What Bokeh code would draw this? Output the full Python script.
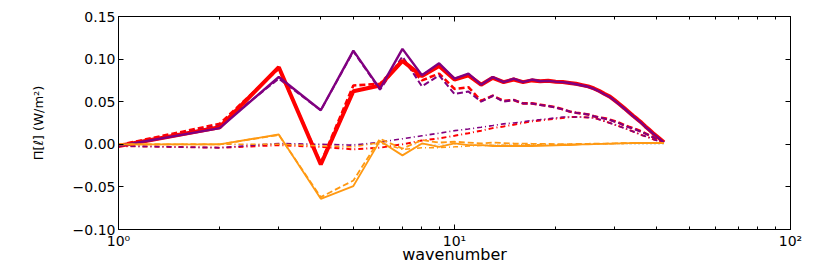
from bokeh.plotting import figure
from bokeh.models import LogAxis, LinearAxis, FixedTicker, CustomJSTickFormatter
from bokeh.embed import file_html
from bokeh.resources import INLINE

k = list(range(1, 43))

red_solid = [-0.002, 0.020, 0.0905, -0.0237, 0.0623, 0.069, 0.098, 0.080, 0.092, 0.076,
             0.081, 0.070, 0.078, 0.073, 0.076, 0.073, 0.075, 0.074, 0.0745, 0.0735,
             0.073, 0.072, 0.071, 0.0695, 0.068, 0.0655, 0.0625, 0.059, 0.056, 0.0515,
             0.047, 0.0425, 0.038, 0.0335, 0.0295, 0.0255, 0.021, 0.017, 0.013, 0.0095, 0.006, 0.0025]
purple_solid = [-0.002, 0.019, 0.079, 0.040, 0.110, 0.065, 0.112, 0.081, 0.095, 0.077,
                0.083, 0.070, 0.079, 0.073, 0.077, 0.073, 0.076, 0.074, 0.0745, 0.0735,
                0.073, 0.072, 0.0705, 0.069, 0.0675, 0.065, 0.062, 0.0585, 0.0555, 0.051,
                0.0465, 0.042, 0.0375, 0.033, 0.029, 0.025, 0.0205, 0.0165, 0.0125, 0.009, 0.0055, 0.002]
red_dashed = [-0.001, 0.024, 0.089, -0.022, 0.069, 0.071, 0.099, 0.075, 0.083, 0.065,
              0.067, 0.051, 0.057, 0.051, 0.052, 0.048, 0.048, 0.0465, 0.045, 0.0435,
              0.041, 0.0385, 0.037, 0.036, 0.035, 0.033, 0.0315, 0.0305, 0.029, 0.027,
              0.025, 0.0225, 0.0205, 0.019, 0.017, 0.015, 0.0128, 0.0105, 0.0085, 0.0065, 0.0045, 0.0025]
purple_dashed = [-0.002, 0.022, 0.077, 0.040, 0.109, 0.064, 0.103, 0.068, 0.081, 0.059,
                 0.062, 0.050, 0.057, 0.050, 0.052, 0.048, 0.048, 0.046, 0.045, 0.043,
                 0.041, 0.0385, 0.037, 0.036, 0.035, 0.033, 0.0315, 0.030, 0.0285, 0.0265,
                 0.0245, 0.022, 0.020, 0.0185, 0.0165, 0.0145, 0.0125, 0.0103, 0.0083, 0.0063, 0.0043, 0.0025]
red_dashdot = [-0.002, -0.004, -0.001, -0.003, -0.006, -0.004, 0.0, 0.0045, 0.007, 0.010,
               0.013, 0.016, 0.019, 0.021, 0.023, 0.025, 0.027, 0.028, 0.029, 0.030,
               0.031, 0.032, 0.032, 0.032, 0.0315, 0.031, 0.029, 0.027, 0.025, 0.023,
               0.021, 0.019, 0.017, 0.015, 0.013, 0.011, 0.0095, 0.0078, 0.006, 0.0045, 0.003, 0.002]
purple_dashdot = [-0.002, -0.004, 0.001, 0.0, -0.001, 0.0025, 0.0065, 0.010, 0.013, 0.016,
                  0.018, 0.020, 0.022, 0.024, 0.025, 0.0265, 0.028, 0.029, 0.030, 0.031,
                  0.032, 0.032, 0.032, 0.032, 0.0315, 0.031, 0.029, 0.027, 0.025, 0.023,
                  0.021, 0.019, 0.017, 0.015, 0.013, 0.011, 0.0095, 0.0078, 0.006, 0.0045, 0.003, 0.002]
orange_solid = [0.0, 0.0, 0.0115, -0.064, -0.049, 0.004, -0.013, 0.001, -0.003, 0.001,
                -0.001, -0.001, -0.002, -0.002, -0.002, -0.002, -0.002, -0.0018, -0.0015, -0.0012,
                -0.001, -0.0008, -0.0005, -0.0002, 0.0, 0.0002, 0.0004, 0.0006, 0.0008, 0.001,
                0.0012, 0.0013, 0.0014, 0.0015, 0.0015, 0.0015, 0.0015, 0.0015, 0.0015, 0.0015, 0.0015, 0.0015]
orange_dashed = [0.0, 0.0, 0.011, -0.062, -0.0425, 0.0065, -0.005, 0.005, 0.002, 0.003,
                 0.002, 0.001, 0.002, 0.0015, 0.001, 0.0008, 0.0006, 0.0005, 0.0004, 0.0003,
                 0.0003, 0.0003, 0.0004, 0.0005, 0.0006, 0.0007, 0.0008, 0.0009, 0.001, 0.0011,
                 0.0012, 0.0013, 0.0013, 0.0014, 0.0014, 0.0015, 0.0015, 0.0015, 0.0015, 0.0015, 0.0015, 0.0015]
orange_dashdot = [0.0, 0.0, 0.0, -0.002, -0.003, 0.002, -0.006, -0.004, -0.004, -0.003,
                  -0.002, -0.0015, -0.001, -0.001, -0.0008, -0.0006, -0.0005, -0.0004, -0.0003, -0.0002,
                  -0.0001, 0.0, 0.0001, 0.0002, 0.0003, 0.0004, 0.0005, 0.0006, 0.0007, 0.0008,
                  0.0009, 0.001, 0.001, 0.0011, 0.0011, 0.0012, 0.0012, 0.0013, 0.0013, 0.0014, 0.0014, 0.0015]

y_ticks = [-0.10, -0.05, 0.0, 0.05, 0.10, 0.15]
x_major = [1, 10, 100]
x_minor = [2, 3, 4, 5, 6, 7, 8, 9, 20, 30, 40, 50, 60, 70, 80, 90]
x_tick_labels = {1: "10⁰", 10: "10¹", 100: "10²"}

RED = "#ff0000"
PURPLE = "#800080"
ORANGE = "#ff9912"
FONT = "DejaVu Sans"

p = figure(x_axis_type="log", x_range=(1, 100), y_range=(-0.10, 0.15),
           frame_width=672, frame_height=213,
           min_border_left=118, min_border_right=20, min_border_top=16, min_border_bottom=30,
           output_backend="svg", toolbar_location=None)
p.grid.visible = False
p.outline_line_color = "black"
p.outline_line_width = 1
p.background_fill_color = "white"
p.border_fill_color = "white"

xt = FixedTicker(ticks=x_major, minor_ticks=x_minor)
yt = FixedTicker(ticks=y_ticks)
xfmt = CustomJSTickFormatter(args=dict(m={str(a): b for a, b in x_tick_labels.items()}),
                             code="return m[String(tick)] || '';")
yfmt = CustomJSTickFormatter(code="return tick.toFixed(2).replace('-', '\u2212');")
empty = CustomJSTickFormatter(code="return '';")

def style(ax, show):
    ax.axis_line_color = "black"
    ax.major_tick_in = 5
    ax.major_tick_out = 0
    ax.minor_tick_in = 3
    ax.minor_tick_out = 0
    ax.major_tick_line_color = "black"
    ax.minor_tick_line_color = "black"
    ax.major_label_text_font = FONT
    ax.major_label_text_font_size = "14px"
    ax.major_label_text_color = "black"
    ax.major_label_standoff = 3
    if not show:
        ax.major_label_text_font_size = "0px"
        ax.major_label_standoff = 0

xa = p.xaxis[0]
xa.ticker = xt
xa.formatter = xfmt
style(xa, True)
xa.axis_label = "wavenumber"
xa.axis_label_text_font = FONT
xa.axis_label_text_font_size = "16px"
xa.axis_label_text_font_style = "normal"
xa.axis_label_text_color = "black"
xa.axis_label_standoff = -7

ya = p.yaxis[0]
ya.ticker = yt
ya.formatter = yfmt
style(ya, True)
ya.minor_tick_line_color = None
ya.axis_label = "Π[ℓ] (W/m²)"
ya.axis_label_text_font = FONT
ya.axis_label_text_font_size = "13px"
ya.axis_label_text_font_style = "normal"
ya.axis_label_text_color = "black"
ya.axis_label_standoff = 24

top = LogAxis(ticker=FixedTicker(ticks=x_major, minor_ticks=x_minor), formatter=empty)
style(top, False)
p.add_layout(top, "above")
right = LinearAxis(ticker=FixedTicker(ticks=y_ticks), formatter=empty)
style(right, False)
right.minor_tick_line_color = None
p.add_layout(right, "right")

p.segment(x0=k[0], x1=k[-1], y0=0, y1=0, line_color="black", line_width=0.6, line_dash="1 3", line_alpha=0.5)

DD = "5 3 1 3"
DA = "6 3"
p.line(k, red_dashdot, line_color=RED, line_width=2, line_dash=DD)
p.line(k, purple_dashdot, line_color=PURPLE, line_width=1.6, line_dash=DD)
p.line(k, red_dashed, line_color=RED, line_width=2.6, line_dash=DA)
p.line(k, purple_dashed, line_color=PURPLE, line_width=2, line_dash=DA)
p.line(k, red_solid, line_color=RED, line_width=4)
p.line(k, purple_solid, line_color=PURPLE, line_width=2.4)
p.line(k, orange_dashdot, line_color=ORANGE, line_width=1.5, line_dash=DD)
p.line(k, orange_dashed, line_color=ORANGE, line_width=1.8, line_dash=DA)
p.line(k, orange_solid, line_color=ORANGE, line_width=1.8)

open("out.html", "w").write(file_html(p, INLINE))
